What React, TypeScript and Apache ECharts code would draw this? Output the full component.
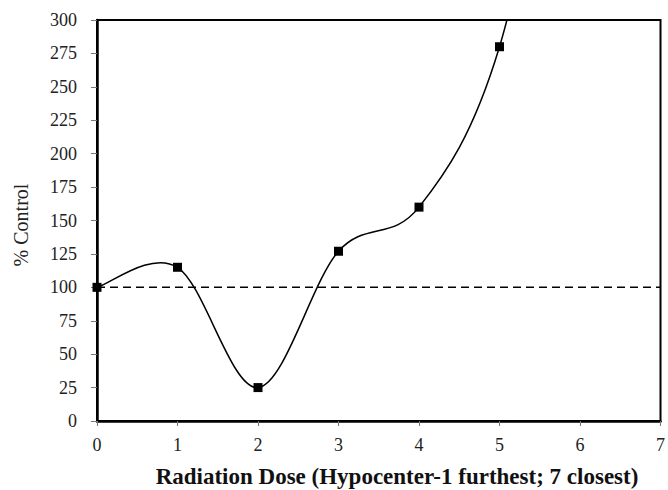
import React, { useEffect, useRef } from "react";
import * as echarts from "echarts";

const doses = [0, 1, 2, 3, 4, 5, 6];
const percentControl = [100, 115, 25, 127, 160, 280, 560];
const baselineX = [0, 7];
const baselineY = [100, 100];
const xTitle = "Radiation Dose (Hypocenter-1 furthest; 7 closest)";
const yTitle = "% Control";

const FONT = "Liberation Serif";

export default function App() {
  const ref = useRef<HTMLDivElement>(null);
  useEffect(() => {
    if (!ref.current) return;
    const chart = echarts.init(ref.current, null, { renderer: "svg" });
    const points = doses.map((d, i) => [d, percentControl[i]]);

    const renderCurve = (params: any, api: any) => {
      if (params.dataIndex !== 0) return null;
      const P = points.map((p) => api.coord(p));
      const n = P.length;
      const children: any[] = [];
      for (let i = 0; i < n - 1; i++) {
        const p0 = P[Math.max(i - 1, 0)];
        const p1 = P[i];
        const p2 = P[i + 1];
        const p3 = P[Math.min(i + 2, n - 1)];
        children.push({
          type: "bezierCurve",
          shape: {
            x1: p1[0],
            y1: p1[1],
            cpx1: p1[0] + (p2[0] - p0[0]) / 6,
            cpy1: p1[1] + (p2[1] - p0[1]) / 6,
            cpx2: p2[0] - (p3[0] - p1[0]) / 6,
            cpy2: p2[1] - (p3[1] - p1[1]) / 6,
            x2: p2[0],
            y2: p2[1],
          },
          style: { stroke: "#000", lineWidth: 1.5, fill: null },
        });
      }
      return { type: "group", children };
    };

    chart.setOption({
      animation: false,
      backgroundColor: "#ffffff",
      textStyle: { fontFamily: FONT },
      grid: {
        left: 97,
        top: 20,
        right: 5,
        bottom: 69,
        show: true,
        borderColor: "#000",
        borderWidth: 2,
      },
      xAxis: {
        type: "value",
        min: 0,
        max: 7,
        interval: 1,
        splitLine: { show: false },
        axisLine: { show: true, lineStyle: { color: "#000", width: 2.5 } },
        axisTick: { show: true, inside: false, length: 5, lineStyle: { color: "#777", width: 1 } },
        axisLabel: { color: "#222", fontFamily: FONT, fontSize: 18, margin: 15 },
      },
      yAxis: {
        type: "value",
        min: 0,
        max: 300,
        interval: 25,
        splitLine: { show: false },
        axisLine: { show: true, lineStyle: { color: "#000", width: 2.5 } },
        axisTick: { show: true, inside: false, length: 6, lineStyle: { color: "#777", width: 1 } },
        axisLabel: { color: "#222", fontFamily: FONT, fontSize: 18, margin: 20 },
      },
      series: [
        {
          type: "line",
          data: baselineX.map((x, i) => [x, baselineY[i]]),
          symbol: "none",
          lineStyle: { color: "#000", width: 1.5, type: [8, 5] },
          z: 1,
        },
        {
          type: "custom",
          coordinateSystem: "cartesian2d",
          data: points,
          encode: { x: 0, y: 1 },
          clip: true,
          renderItem: renderCurve,
          z: 2,
        },
        {
          type: "scatter",
          data: points,
          clip: true,
          symbol: "rect",
          symbolSize: 9,
          itemStyle: { color: "#000", opacity: 1 },
          z: 3,
        },
      ],
      graphic: [
        {
          type: "text",
          x: 397,
          y: 476,
          style: {
            text: xTitle,
            fontFamily: FONT,
            fontWeight: "bold",
            fontSize: 23,
            fill: "#111",
            align: "center",
            verticalAlign: "middle",
          },
        },
        {
          type: "text",
          x: 21,
          y: 225,
          rotation: Math.PI / 2,
          style: {
            text: yTitle,
            fontFamily: FONT,
            fontSize: 20,
            fill: "#222",
            align: "center",
            verticalAlign: "middle",
          },
        },
      ],
    });
    return () => chart.dispose();
  }, []);
  return (
    <div
      ref={ref}
      style={{ position: "fixed", left: 0, top: 0, width: 668, height: 490 }}
    />
  );
}
